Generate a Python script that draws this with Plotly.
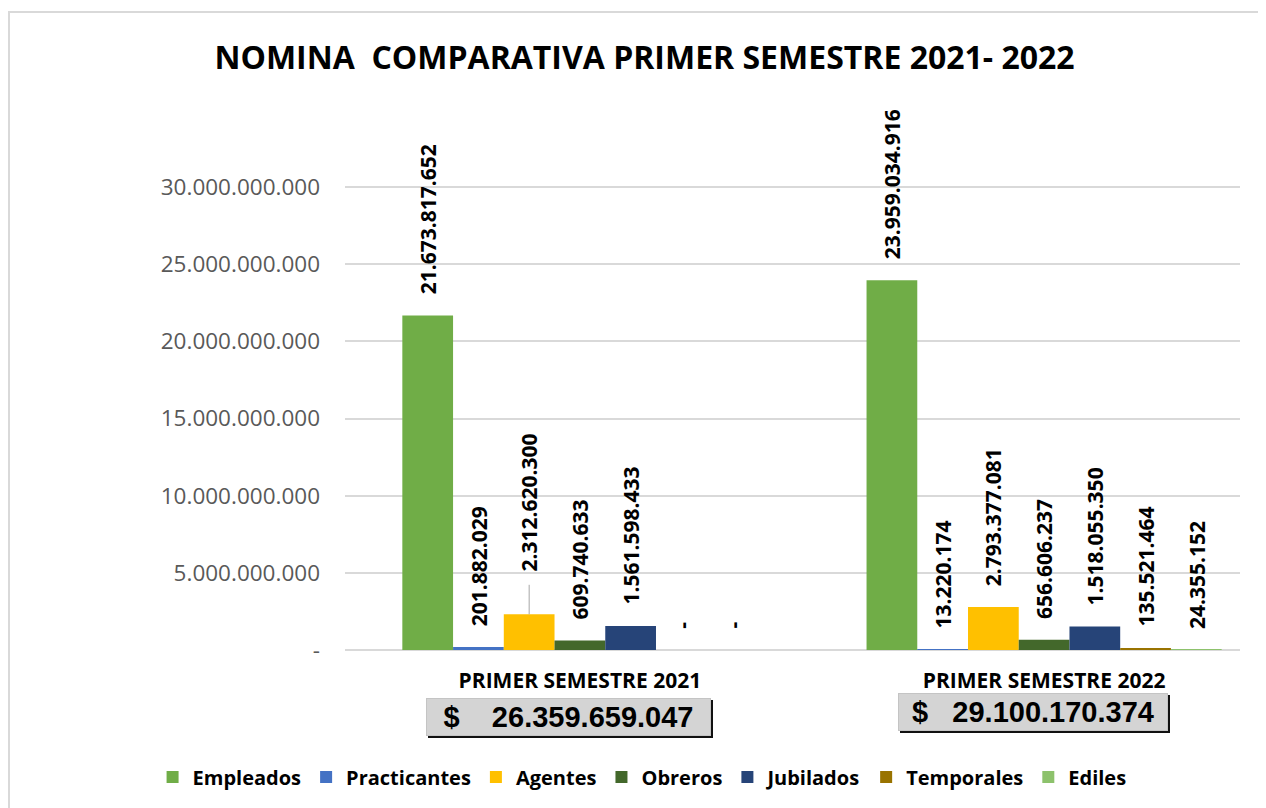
import plotly.graph_objects as go

# Data
periodos = ['PRIMER SEMESTRE 2021', 'PRIMER SEMESTRE 2022']
series = ['Empleados', 'Practicantes', 'Agentes', 'Obreros', 'Jubilados', 'Temporales', 'Ediles']
empleados    = [21673817652, 23959034916]
practicantes = [201882029, 13220174]
agentes      = [2312620300, 2793377081]
obreros      = [609740633, 656606237]
jubilados    = [1561598433, 1518055350]
temporales   = [0, 135521464]
ediles       = [0, 24355152]
y_ticks = [0, 5e9, 10e9, 15e9, 20e9, 25e9, 30e9]

valores = [empleados, practicantes, agentes, obreros, jubilados, temporales, ediles]
colores = ['#70AD47', '#4472C4', '#FFC000', '#43682B', '#264478', '#997300', '#8DC26C']


def fmt(v):
    if v == 0:
        return '-'
    return f"{int(v):,}".replace(',', '.')


BARGAP = 0.235
FONT = 'Open Sans'
LBL = dict(family=FONT, size=21, color='black', weight='bold')

fig = go.Figure()
for name, vals, col in zip(series, valores, colores):
    fig.add_trace(go.Bar(x=periodos, y=vals, name=name, marker_color=col,
                         marker_line_width=0))

# data labels (rotated, above the bars)
n = len(series)
w = (1 - BARGAP) / n
annots = []
for i, vals in enumerate(valores):
    for j, v in enumerate(vals):
        xpos = j + (i - (n - 1) / 2) * w
        if series[i] == 'Agentes' and j == 0:
            # label moved up with a leader line
            annots.append(dict(x=xpos, y=v, xref='x', yref='y', text=fmt(v),
                               textangle=-90, showarrow=True, arrowhead=0,
                               arrowwidth=1, arrowcolor='#a6a6a6', ax=0, ay=-112,
                               standoff=0, startstandoff=12, font=LBL))
        else:
            annots.append(dict(x=xpos, y=v, xref='x', yref='y', text=fmt(v),
                               textangle=-90, showarrow=False, yanchor='bottom',
                               yshift=19, font=LBL))

# totals boxes under each category
box_w = [279, 264]
box_dy = [-67, -62]
gaps = [4, 3]
for j, p in enumerate(periodos):
    total = sum(vals[j] for vals in valores)
    txt = '$' + '\u00a0' * gaps[j] + fmt(total)
    for shadow in (True, False):
        annots.append(dict(x=j, y=0, xref='x', yref='y', text=txt, showarrow=False,
                           yanchor='middle', width=box_w[j], align='center',
                           xshift=-11 + (2 if shadow else 0),
                           yshift=box_dy[j] - (2 if shadow else 0),
                           bgcolor='#111111' if shadow else '#d4d4d4',
                           bordercolor='#111111' if shadow else '#c4c4c4',
                           borderwidth=1, borderpad=2,
                           font=dict(family='Liberation Sans', size=29, color='black', weight='bold')))

fig.update_layout(
    width=1258, height=800,
    paper_bgcolor='white', plot_bgcolor='white',
    barmode='group', bargap=BARGAP, bargroupgap=0,
    margin=dict(l=337, r=26, t=92, b=158, autoexpand=False),
    title=dict(text='NOMINA  COMPARATIVA PRIMER SEMESTRE 2021- 2022',
               x=0.506, xanchor='center', y=0.9375, yanchor='middle',
               font=dict(family=FONT, size=32, color='black', weight='bold')),
    annotations=annots,
    legend=dict(orientation='h', x=-0.215, xanchor='left',
                y=-0.231, yanchor='middle',
                font=dict(family=FONT, size=20, color='black', weight='bold'),
                itemwidth=30, tracegroupgap=0),
    shapes=[dict(type='rect', xref='paper', yref='paper',
                 x0=(1 - 337) / 895, x1=(1300 - 337) / 895,
                 y0=(642 - 900) / 550, y1=(642 - 4) / 550,
                 line=dict(color='#d9d9d9', width=2), layer='below')],
)

fig.update_xaxes(range=[-0.506, 1.422], showgrid=False, showline=False, ticks='',
                 ticklabelstandoff=16,
                 tickfont=dict(family=FONT, size=21, color='black', weight='bold'))
fig.update_yaxes(range=[0, 35.64e9], tickvals=y_ticks,
                 ticktext=[fmt(v) for v in y_ticks],
                 showgrid=True, gridcolor='#d9d9d9', gridwidth=2,
                 zeroline=True, zerolinecolor='#d9d9d9', zerolinewidth=2,
                 ticklabelstandoff=24,
                 tickfont=dict(family=FONT, size=22.5, color='#595959'))

fig.write_html("out.html")
